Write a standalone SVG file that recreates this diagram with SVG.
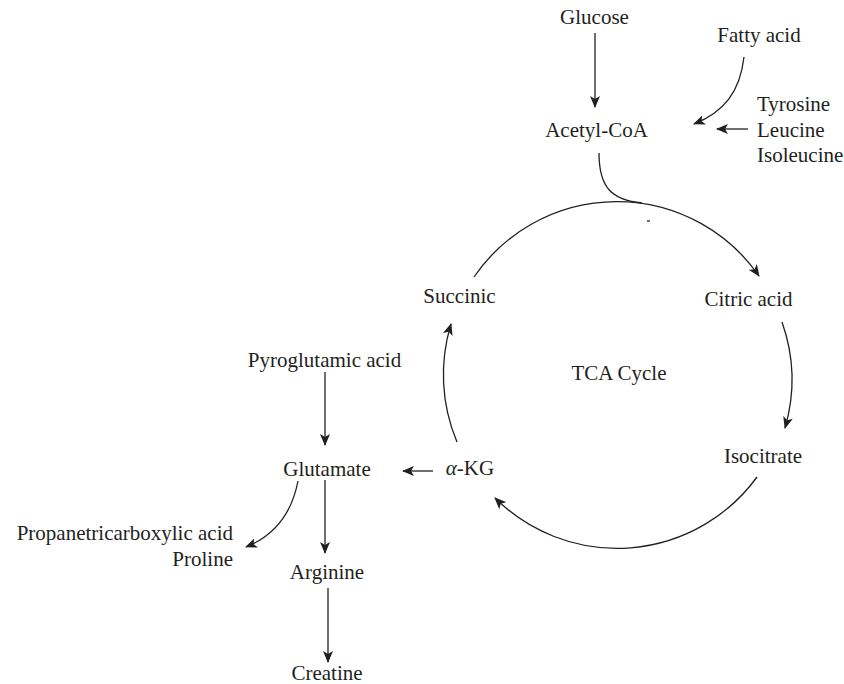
<svg xmlns="http://www.w3.org/2000/svg" width="844" height="684" viewBox="0 0 844 684">
<style>
text{font-family:"Liberation Serif","Times New Roman",serif;font-size:21px;fill:#231f20}
.c{text-anchor:middle}
.r{text-anchor:end}
.ln{fill:none;stroke:#231f20;stroke-width:1.3}
.a{marker-end:url(#ah)}
</style>
<defs>
<marker id="ah" viewBox="0 0 12 10" refX="11" refY="5" markerWidth="12" markerHeight="10" markerUnits="userSpaceOnUse" orient="auto">
<path d="M0,0 L12,5 L0,10 L3,5 z" fill="#231f20"/>
</marker>
</defs>
<rect width="844" height="684" fill="#fff"/>
<g id="connectors">
<path class="ln a" d="M595,33 L595,107"/>
<path class="ln a" d="M744,57 C740,92 724,112 694,124"/>
<path class="ln a" d="M748,129 L717,129"/>
<path class="ln" d="M599,153 C599,188 612,200 642,203"/>
<path class="ln a" d="M474,277 A173,173 0 0 1 759,276"/>
<path class="ln a" d="M782,322 A173,173 0 0 1 785,428"/>
<path class="ln a" d="M757,477 A173,173 0 0 1 495,498"/>
<path class="ln a" d="M457,442 A173,173 0 0 1 451,324"/>
<path class="ln" d="M647,221 L650,221" stroke-width="1"/>
<path class="ln a" d="M433,471 L403,471"/>
<path class="ln a" d="M325,372 L325,445"/>
<path class="ln a" d="M325,480 L325,553"/>
<path class="ln a" d="M298,481 C292,512 276,535 246,547"/>
<path class="ln a" d="M328,588 L328,662"/>
</g>
<g id="glucose"><text class="c" x="594.5" y="24">Glucose</text></g>
<g id="fatty-acid"><text class="c" x="759" y="42">Fatty acid</text></g>
<g id="acetyl-coa"><text class="c" x="596.5" y="137">Acetyl-CoA</text></g>
<g id="amino-acids"><text x="757" y="111">Tyrosine</text><text x="757" y="137">Leucine</text><text x="757" y="162">Isoleucine</text></g>
<g id="succinic"><text class="c" x="459.5" y="303">Succinic</text></g>
<g id="citric-acid"><text class="c" x="748.5" y="306">Citric acid</text></g>
<g id="tca-cycle"><text class="c" x="619" y="380">TCA Cycle</text></g>
<g id="isocitrate"><text class="c" x="763" y="463">Isocitrate</text></g>
<g id="akg"><text class="c" x="470" y="475"><tspan font-style="italic">α</tspan>-KG</text></g>
<g id="pyroglutamic-acid"><text class="c" x="324.5" y="367">Pyroglutamic acid</text></g>
<g id="glutamate"><text class="c" x="327" y="476">Glutamate</text></g>
<g id="propane-proline"><text class="r" x="233" y="540">Propanetricarboxylic acid</text><text class="r" x="233" y="566">Proline</text></g>
<g id="arginine"><text class="c" x="327" y="579">Arginine</text></g>
<g id="creatine"><text class="c" x="327" y="680">Creatine</text></g>
</svg>
